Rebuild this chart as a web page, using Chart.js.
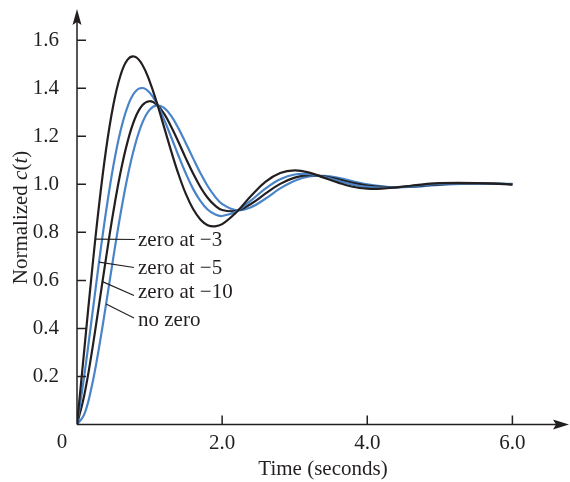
<!DOCTYPE html>
<html lang="en">
<head>
  <meta charset="UTF-8">
  <title>Normalized c(t) - effect of a zero</title>
  <style>
    body {
      margin: 0;
      background: #fff;
    }
    #wrap {
      width: 570px;
      height: 482px;
    }
  </style>
</head>
<body>
  <div id="wrap"><canvas id="chart"></canvas></div>

  <script src="https://cdn.jsdelivr.net/npm/chart.js"></script>
  <script>
    // values
    const times = [0, 0.1, 0.2, 0.3, 0.4, 0.5, 0.6, 0.7, 0.8, 0.9, 1.0, 1.1, 1.2, 1.3, 1.4, 1.5, 1.6, 1.7, 1.8, 1.9, 2.0,
      2.2, 2.4, 2.6, 2.8, 3.0, 3.2, 3.4, 3.6, 3.8, 4.0, 4.2, 4.4, 4.6, 4.8, 5.0, 5.5, 6.0];
    const zeroAt3 = [0, 0.310, 0.619, 0.903, 1.144, 1.329, 1.454, 1.520, 1.531, 1.498, 1.430, 1.340, 1.238, 1.136, 1.041, 0.960, 0.897, 0.854, 0.830, 0.825, 0.834,
      0.885, 0.952, 1.011, 1.047, 1.058, 1.049, 1.028, 1.007, 0.990, 0.982, 0.982, 0.987, 0.994, 1.001, 1.005, 1.005, 0.999];
    const zeroAt5 = [0, 0.203, 0.433, 0.668, 0.886, 1.075, 1.223, 1.326, 1.385, 1.401, 1.382, 1.336, 1.270, 1.195, 1.118, 1.045, 0.981, 0.931, 0.895, 0.875, 0.868,
      0.888, 0.933, 0.983, 1.021, 1.041, 1.042, 1.031, 1.015, 0.999, 0.989, 0.986, 0.987, 0.992, 0.998, 1.002, 1.004, 1.000];
    const zeroAt10 = [0, 0.122, 0.293, 0.491, 0.693, 0.884, 1.050, 1.181, 1.275, 1.329, 1.346, 1.332, 1.294, 1.239, 1.175, 1.108, 1.045, 0.989, 0.944, 0.912, 0.893,
      0.890, 0.919, 0.962, 1.002, 1.028, 1.038, 1.033, 1.021, 1.006, 0.995, 0.989, 0.988, 0.991, 0.995, 1.000, 1.004, 1.001];
    const noZero = [0, 0.042, 0.154, 0.314, 0.500, 0.694, 0.877, 1.037, 1.164, 1.256, 1.310, 1.329, 1.318, 1.284, 1.232, 1.171, 1.108, 1.047, 0.993, 0.950, 0.918,
      0.892, 0.905, 0.941, 0.983, 1.015, 1.033, 1.035, 1.027, 1.013, 1.000, 0.992, 0.988, 0.989, 0.993, 0.998, 1.004, 1.002];

    const seriesNames = ['zero at \u22123', 'zero at \u22125', 'zero at \u221210', 'no zero'];
    const xTicks = [2, 4, 6];
    const xTickLabels = ['2.0', '4.0', '6.0'];
    const yTicks = [0.2, 0.4, 0.6, 0.8, 1.0, 1.2, 1.4, 1.6];
    const yTickLabels = ['0.2', '0.4', '0.6', '0.8', '1.0', '1.2', '1.4', '1.6'];
    const originLabel = '0';

    const ink = '#231f20';
    const blue = '#4a84c8';
    const serif = '"Liberation Serif", "Times New Roman", serif';
    const seriesList = [zeroAt3, zeroAt5, zeroAt10, noZero];
    const seriesColors = [ink, blue, ink, blue];

    // where each label's leader line touches its curve (data units), and where the text sits (px)
    const leaders = [
      { at: [0.254, 0.772], end: [135, 239.5], text: [138, 240] },
      { at: [0.304, 0.676], end: [134, 267.5], text: [138, 268] },
      { at: [0.351, 0.595], end: [134, 295.5], text: [138, 292] },
      { at: [0.400, 0.502], end: [134, 318], text: [138, 320] }
    ];

    Chart.defaults.font.family = serif;
    Chart.defaults.font.size = 21;
    Chart.defaults.color = ink;

    // axes with arrows, inward tick marks, origin label, leader labels, y title
    const decorPlugin = {
      id: 'decor',
      afterDraw(chart) {
        const { ctx, chartArea: a, scales: { x, y } } = chart;
        const x0 = x.getPixelForValue(0);
        const y0 = y.getPixelForValue(0);
        ctx.save();
        ctx.strokeStyle = ink;
        ctx.fillStyle = ink;
        ctx.lineWidth = 1.5;

        ctx.beginPath();
        ctx.moveTo(x0, y0);
        ctx.lineTo(a.right - 12, y0);
        ctx.moveTo(x0, y0);
        ctx.lineTo(x0, a.top + 12);
        xTicks.forEach(v => {
          const px = x.getPixelForValue(v);
          ctx.moveTo(px, y0);
          ctx.lineTo(px, y0 - 9);
        });
        yTicks.forEach(v => {
          const py = y.getPixelForValue(v);
          ctx.moveTo(x0, py);
          ctx.lineTo(x0 + 9, py);
        });
        ctx.stroke();

        ctx.beginPath();
        ctx.moveTo(a.right, y0);
        ctx.lineTo(a.right - 16, y0 - 5);
        ctx.lineTo(a.right - 13, y0);
        ctx.lineTo(a.right - 16, y0 + 5);
        ctx.closePath();
        ctx.moveTo(x0, a.top);
        ctx.lineTo(x0 - 4.5, a.top + 16);
        ctx.lineTo(x0, a.top + 13);
        ctx.lineTo(x0 + 4.5, a.top + 16);
        ctx.closePath();
        ctx.fill();

        ctx.font = '21px ' + serif;
        ctx.textBaseline = 'middle';
        ctx.textAlign = 'center';
        ctx.fillText(originLabel, x0 - 15, y0 + 18);

        // leader lines and series labels
        ctx.lineWidth = 1.2;
        ctx.textAlign = 'left';
        leaders.forEach((l, i) => {
          ctx.beginPath();
          ctx.moveTo(x.getPixelForValue(l.at[0]), y.getPixelForValue(l.at[1]));
          ctx.lineTo(l.end[0], l.end[1]);
          ctx.stroke();
          ctx.fillText(seriesNames[i], l.text[0], l.text[1]);
        });

        // y title with italic c(t)
        const parts = [
          ['Normalized ', ''], ['c', 'italic '], ['(', ''], ['t', 'italic '], [')', '']
        ];
        let total = 0;
        parts.forEach(p => {
          ctx.font = p[1] + '21px ' + serif;
          total += ctx.measureText(p[0]).width;
        });
        ctx.translate(21, 217.5);
        ctx.rotate(-Math.PI / 2);
        let cx = -total / 2;
        parts.forEach(p => {
          ctx.font = p[1] + '21px ' + serif;
          ctx.fillText(p[0], cx, 0);
          cx += ctx.measureText(p[0]).width;
        });
        ctx.restore();
      }
    };

    new Chart(document.getElementById('chart'), {
      type: 'line',
      data: {
        datasets: seriesList.map((s, i) => ({
          label: seriesNames[i],
          data: times.map((t, k) => ({ x: t, y: s[k] })),
          borderColor: seriesColors[i],
          borderWidth: 2.2,
          pointRadius: 0,
          tension: 0.4,
          fill: false
        }))
      },
      options: {
        responsive: true,
        maintainAspectRatio: false,
        animation: false,
        layout: { padding: { top: 9, right: 1, left: 0, bottom: 0 } },
        plugins: {
          legend: { display: false },
          tooltip: { enabled: false }
        },
        scales: {
          x: {
            type: 'linear',
            min: 0,
            max: 6.78,
            grid: { display: false },
            border: { display: false },
            afterBuildTicks: s => { s.ticks = xTicks.map(v => ({ value: v })); },
            afterFit: s => {
              s.height = 57.5;
              s.paddingLeft = 0;
              s.paddingRight = 0;
            },
            ticks: {
              padding: -2,
              maxRotation: 0,
              callback: (v, i) => xTickLabels[i]
            },
            title: {
              display: true,
              text: 'Time (seconds)',
              padding: { top: 0, bottom: 0 },
              font: { size: 21, lineHeight: 1.2 }
            }
          },
          y: {
            min: 0,
            max: 1.73,
            grid: { display: false },
            border: { display: false },
            afterBuildTicks: s => { s.ticks = yTicks.map(v => ({ value: v })); },
            afterFit: s => {
              s.width = 77;
              s.paddingTop = 0;
              s.paddingBottom = 0;
            },
            ticks: {
              padding: 10,
              callback: (v, i) => yTickLabels[i]
            }
          }
        }
      },
      plugins: [decorPlugin]
    });
  </script>
</body>
</html>
